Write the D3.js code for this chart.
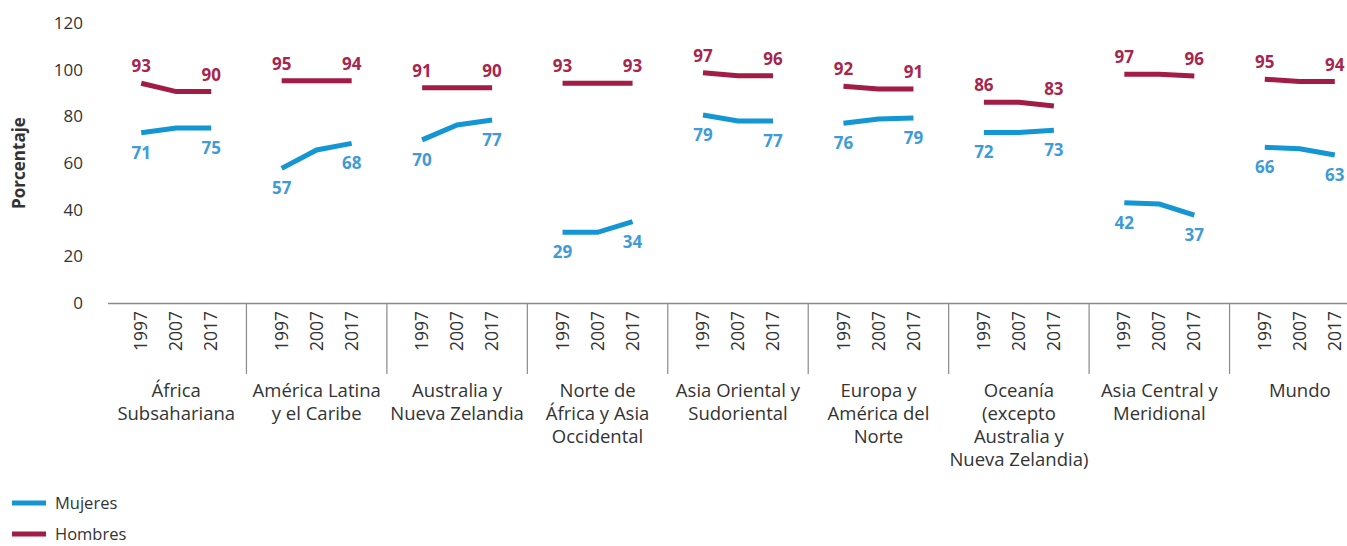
<!DOCTYPE html>
<html>
<head>
<meta charset="utf-8">
<script src="https://cdn.jsdelivr.net/npm/d3@7"></script>
<style>
  body { margin: 0; background: #fff; }
  svg { font-family: "Open Sans", Lato, sans-serif; display: block; }
</style>
</head>
<body>
<svg></svg>
<script>
let regions = [
  ['África', 'Subsahariana'],
  ['América Latina', 'y el Caribe'],
  ['Australia y', 'Nueva Zelandia'],
  ['Norte de', 'África y Asia', 'Occidental'],
  ['Asia Oriental y', 'Sudoriental'],
  ['Europa y', 'América del', 'Norte'],
  ['Oceanía', '(excepto', 'Australia y', 'Nueva Zelandia)'],
  ['Asia Central y', 'Meridional'],
  ['Mundo']
]
let years = ['1997', '2007', '2017']
let yTicks = [0, 20, 40, 60, 80, 100, 120]

// values as plotted (position of the lines)
let mujeres = [
  [73, 75, 75],
  [57.7, 65.6, 68.4],
  [69.9, 76.3, 78.4],
  [30.3, 30.3, 34.9],
  [80.6, 78, 78],
  [77, 78.9, 79.3],
  [73.1, 73.1, 74],
  [43, 42.4, 37.7],
  [66.7, 66.1, 63.4]
]
let hombres = [
  [94.2, 90.6, 90.6],
  [95.3, 95.3, 95.3],
  [92.3, 92.3, 92.3],
  [94.2, 94.2, 94.2],
  [98.7, 97.4, 97.4],
  [92.9, 91.7, 91.7],
  [86, 86, 84.4],
  [98, 98, 97.3],
  [95.9, 94.9, 94.9]
]
// printed labels (first and last year)
let mujeresLabels = [[71, 75], [57, 68], [70, 77], [29, 34], [79, 77], [76, 79], [72, 73], [42, 37], [66, 63]]
let hombresLabels = [[93, 90], [95, 94], [91, 90], [93, 93], [97, 96], [92, 91], [86, 83], [97, 96], [95, 94]]

let width = 1347
let height = 546

let blue = '#1496d4'
let blueText = '#3f9bd7'
let red = '#a21c45'
let redText = '#a6264d'
let textColor = '#333'

let svg = d3.select('svg')
  .attr('width', width)
  .attr('height', height)

let regionIds = regions.map((r, i) => i)

let xBand = d3.scaleBand()
  .domain(regionIds)
  .range([106, 1370])

let xYear = d3.scalePoint()
  .domain(years)
  .range([xBand.bandwidth() / 2 - 35, xBand.bandwidth() / 2 + 35])

let yScale = d3.scaleLinear()
  .domain([0, 120])
  .range([303, 23])

// y axis
let yAxis = d3.axisLeft(yScale).tickValues(yTicks).tickSize(0).tickPadding(0)
let yg = svg.append('g')
  .attr('transform', 'translate(83, 0)')
  .call(yAxis)
yg.select('.domain').remove()
yg.selectAll('text')
  .attr('fill', textColor)
  .style('font-size', '17px')
  .style('font-family', '"Open Sans", sans-serif')

svg.append('text')
  .attr('transform', `translate(25, ${yScale(60)}) rotate(-90)`)
  .attr('text-anchor', 'middle')
  .attr('fill', textColor)
  .style('font-size', '17px')
  .style('font-weight', 'bold')
  .text('Porcentaje')

// x axis
svg.append('line')
  .attr('x1', xBand.range()[0] + 2)
  .attr('x2', width)
  .attr('y1', yScale(0) + 0.5)
  .attr('y2', yScale(0) + 0.5)
  .attr('stroke', '#8a8a8a')
  .attr('stroke-width', 1.5)

svg.selectAll('.sep')
  .data(regionIds.slice(1))
  .enter()
  .append('line')
  .attr('class', 'sep')
  .attr('x1', (d) => xBand(d))
  .attr('x2', (d) => xBand(d))
  .attr('y1', yScale(0))
  .attr('y2', yScale(0) + 71)
  .attr('stroke', '#8a8a8a')
  .attr('stroke-width', 1.2)

let groups = svg.selectAll('.region')
  .data(regionIds)
  .enter()
  .append('g')
  .attr('class', 'region')
  .attr('transform', (d) => `translate(${xBand(d)}, 0)`)

groups.selectAll('.year')
  .data(years)
  .enter()
  .append('text')
  .attr('class', 'year')
  .attr('transform', (d) => `translate(${xYear(d)}, ${yScale(0) + 8}) rotate(-90)`)
  .attr('text-anchor', 'end')
  .attr('dy', '0.35em')
  .attr('fill', textColor)
  .style('font-size', '17.5px')
  .text((d) => d)

groups.append('text')
  .attr('class', 'rlabel')
  .attr('text-anchor', 'middle')
  .attr('fill', textColor)
  .style('font-size', '18.5px')
  .selectAll('tspan')
  .data((d) => regions[d])
  .enter()
  .append('tspan')
  .attr('x', xBand.bandwidth() / 2)
  .attr('y', (d, i) => yScale(0) + 94 + i * 23)
  .text((d) => d)

let line = d3.line()
  .x((d, i) => xYear(years[i]))
  .y((d) => yScale(d))

let drawSeries = (values, labels, cls, color, labelColor, offset) => {
  groups.append('path')
    .datum((d) => values[d])
    .attr('d', line)
    .attr('fill', 'none')
    .attr('stroke', color)
    .attr('stroke-width', 5)

  groups.selectAll('.lbl-' + cls)
    .data((d) => [
      { x: xYear(years[0]), v: values[d][0], t: labels[d][0] },
      { x: xYear(years[2]), v: values[d][2], t: labels[d][1] }
    ])
    .enter()
    .append('text')
    .attr('class', 'lbl-' + cls)
    .attr('x', (d) => d.x)
    .attr('y', (d) => yScale(d.v) + offset)
    .attr('text-anchor', 'middle')
    .attr('fill', labelColor)
    .style('font-size', '17px')
    .style('font-weight', 'bold')
    .text((d) => d.t)
}

drawSeries(mujeres, mujeresLabels, 'm', blue, blueText, 26)
drawSeries(hombres, hombresLabels, 'h', red, redText, -11)

// legend
let legend = svg.selectAll('.legend')
  .data([['Mujeres', blue], ['Hombres', red]])
  .enter()
  .append('g')
  .attr('class', 'legend')
  .attr('transform', (d, i) => `translate(12, ${503 + i * 31})`)

legend.append('line')
  .attr('x1', 0)
  .attr('x2', 34)
  .attr('stroke', (d) => d[1])
  .attr('stroke-width', 5)

legend.append('text')
  .attr('x', 43)
  .attr('dy', '0.35em')
  .attr('fill', textColor)
  .style('font-size', '16.5px')
  .text((d) => d[0])
</script>
</body>
</html>
